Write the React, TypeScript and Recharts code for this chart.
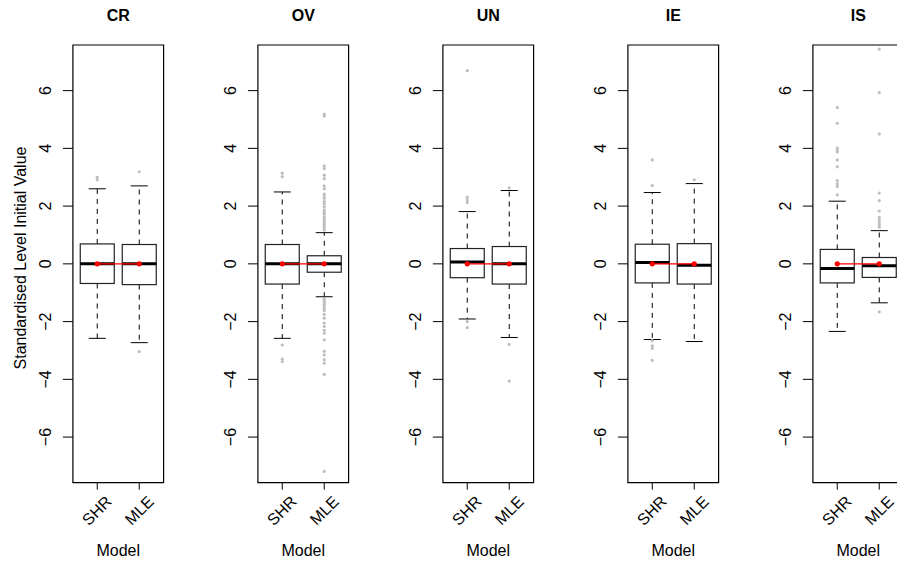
import React from 'react';
import {
  ComposedChart,
  Bar,
  Line,
  Scatter,
  XAxis,
  YAxis,
  ReferenceArea,
} from 'recharts';

const panelNames = ['CR', 'OV', 'UN', 'IE', 'IS'];
const models = ['SHR', 'MLE'];
const yTicks = [-6, -4, -2, 0, 2, 4, 6];

// [lower whisker, Q1, median, Q3, upper whisker] for SHR and MLE
const statsCR = [[-2.58, -0.68, 0, 0.69, 2.6], [-2.73, -0.72, 0, 0.67, 2.7]];
const statsOV = [[-2.58, -0.7, 0, 0.67, 2.49], [-1.14, -0.29, 0, 0.28, 1.08]];
const statsUN = [[-1.91, -0.48, 0.06, 0.53, 1.81], [-2.55, -0.7, 0, 0.6, 2.54]];
const statsIE = [[-2.62, -0.66, 0.05, 0.68, 2.47], [-2.69, -0.7, -0.05, 0.7, 2.78]];
const statsIS = [[-2.34, -0.66, -0.16, 0.5, 2.17], [-1.35, -0.47, -0.07, 0.22, 1.15]];

// outlying points, SHR then MLE
const outliersCR = [[3.0, 2.91], [3.19, -3.04]];
const outliersOV = [
  [3.14, 3.02, -2.81, -3.3, -3.39],
  [
    5.19, 5.12, 3.39, 3.3, 3.07, 2.95, 2.7, 2.6, 2.42, 2.35, 2.27, 2.16, 2.08, 1.98, 1.87,
    1.8, 1.73, 1.64, 1.57, 1.5, 1.43, 1.37, 1.3, 1.24, 1.17,
    -1.22, -1.27, -1.33, -1.4, -1.47, -1.55, -1.62, -1.75, -1.88, -2.05, -2.17, -2.3,
    -2.4, -2.63, -3.03, -3.15, -3.32, -3.44, -3.83, -7.19,
  ],
];
const outliersUN = [[6.69, 2.31, 2.21, 2.12, -2.0, -2.21], [2.63, -2.79, -4.06]];
const outliersIE = [[3.6, 2.71, -2.66, -2.84, -2.93, -3.34], [2.91]];
const outliersIS = [
  [5.41, 4.87, 4.01, 3.94, 3.88, 3.6, 3.36, 2.88, 2.77, 2.68, 2.39],
  [7.44, 5.93, 4.5, 2.45, 2.19, 1.83, 1.61, 1.52, 1.44, 1.35, 1.27, -1.66],
];

const meansCR = [0, 0];
const meansOV = [0, 0];
const meansUN = [0, 0];
const meansIE = [0, 0];
const meansIS = [0, 0];

const allStats = [statsCR, statsOV, statsUN, statsIE, statsIS];
const allOutliers = [outliersCR, outliersOV, outliersUN, outliersIE, outliersIS];
const allMeans = [meansCR, meansOV, meansUN, meansIE, meansIS];

const PANEL_W = 185;
const H = 561;
const FS = 16;
const FONT = '"Liberation Sans", Arial, Helvetica, sans-serif';

const fmt = (v: number) => (v < 0 ? '\u2212' + Math.abs(v) : String(v));

const BoxShape = (props: any) => {
  const { x, y, width, height, payload } = props;
  if (!payload || !Number.isFinite(y) || !Number.isFinite(height)) return null;
  const top = Math.min(y, y + height);
  const h = Math.abs(height);
  const span = payload.hi - payload.lo;
  const py = (v: number) => top + (h * (payload.hi - v)) / span;
  const cx = x + width / 2;
  const cap = width / 4;
  return (
    <g>
      <line x1={cx} x2={cx} y1={py(payload.q3)} y2={py(payload.hi)} stroke="#000" strokeDasharray="5 5" />
      <line x1={cx} x2={cx} y1={py(payload.q1)} y2={py(payload.lo)} stroke="#000" strokeDasharray="5 5" />
      <line x1={cx - cap} x2={cx + cap} y1={py(payload.hi)} y2={py(payload.hi)} stroke="#000" />
      <line x1={cx - cap} x2={cx + cap} y1={py(payload.lo)} y2={py(payload.lo)} stroke="#000" />
      <rect
        x={x}
        y={py(payload.q3)}
        width={width}
        height={py(payload.q1) - py(payload.q3)}
        fill="#fff"
        stroke="#222"
        strokeWidth={1.2}
      />
      <line x1={x} x2={x + width} y1={py(payload.med)} y2={py(payload.med)} stroke="#000" strokeWidth={3} />
    </g>
  );
};

const YTick = ({ x, y, payload }: any) => (
  <text x={x} y={y} transform={`rotate(-90, ${x}, ${y})`} textAnchor="middle" fontSize={FS} fill="#000">
    {fmt(payload.value)}
  </text>
);

const XTick = ({ x, y, payload }: any) => (
  <text transform={`translate(${x + 15.5}, ${y}) rotate(-45)`} textAnchor="end" fontSize={FS} fill="#000">
    {models[payload.value - 1]}
  </text>
);

const Panel = ({ index }: { index: number }) => {
  const rows = models.map((m, i) => {
    const [lo, q1, med, q3, hi] = allStats[index][i];
    return { x: i + 1, model: m, lo, q1, med, q3, hi, mean: allMeans[index][i] };
  });
  const points = allOutliers[index].flatMap((vals, i) => vals.map((v) => ({ x: i + 1, y: v })));
  const title = panelNames[index];

  return (
    <ComposedChart
      width={PANEL_W}
      height={H}
      data={rows}
      margin={{ top: 45, right: 21.4, bottom: 0, left: 0 }}
    >
      <XAxis
        type="number"
        dataKey="x"
        domain={[0.42, 2.58]}
        ticks={[1, 2]}
        allowDataOverflow
        interval={0}
        height={78.3}
        tickSize={7}
        tickMargin={13}
        axisLine={false}
        tickLine={{ stroke: '#000' }}
        tick={<XTick />}
        label={{
          content: (p: any) => {
            const vb = p.viewBox;
            return (
              <text x={vb.x + vb.width / 2} y={vb.y + 73} textAnchor="middle" fontSize={FS} fill="#000">
                Model
              </text>
            );
          },
        }}
      />
      <YAxis
        type="number"
        dataKey="y"
        domain={[-7.58, 7.58]}
        ticks={yTicks}
        allowDataOverflow
        interval={0}
        width={72.9}
        tickSize={10}
        tickMargin={12}
        axisLine={false}
        tickLine={{ stroke: '#000' }}
        tick={<YTick />}
        label={
          index === 0
            ? {
                content: () => (
                  <text
                    x={26}
                    y={258}
                    transform="rotate(-90, 26, 258)"
                    textAnchor="middle"
                    fontSize={FS}
                    fill="#000"
                  >
                    Standardised Level Initial Value
                  </text>
                ),
              }
            : undefined
        }
      />
      <Bar dataKey={(d: any) => [d.lo, d.hi]} barSize={34} shape={<BoxShape />} isAnimationActive={false} />
      <Scatter
        data={points}
        dataKey="y"
        isAnimationActive={false}
        shape={(p: any) => <circle cx={p.cx} cy={p.cy} r={1.6} fill="#bebebe" />}
      />
      <Line
        dataKey="mean"
        stroke="#ff0000"
        strokeWidth={1.3}
        dot={{ r: 2.6, fill: '#ff0000', stroke: '#ff0000', strokeWidth: 0 }}
        isAnimationActive={false}
      />
      <ReferenceArea
        x1={0.42}
        x2={2.58}
        y1={-7.58}
        y2={7.58}
        fill="none"
        fillOpacity={0}
        stroke="#000"
        strokeWidth={1.2}
        label={{
          content: (p: any) => {
            const vb = p.viewBox;
            return (
              <text
                x={vb.x + vb.width / 2}
                y={vb.y - 24}
                textAnchor="middle"
                fontSize={16}
                fontWeight="bold"
                fill="#000"
              >
                {title}
              </text>
            );
          },
        }}
      />
    </ComposedChart>
  );
};

export default function App() {
  return (
    <div
      style={{
        position: 'absolute',
        left: 0,
        top: 0,
        width: 897,
        height: H,
        overflow: 'hidden',
        background: '#fff',
        fontFamily: FONT,
      }}
    >
      {panelNames.map((name, i) => (
        <div key={name} style={{ position: 'absolute', left: PANEL_W * i, top: 0 }}>
          <Panel index={i} />
        </div>
      ))}
    </div>
  );
}
